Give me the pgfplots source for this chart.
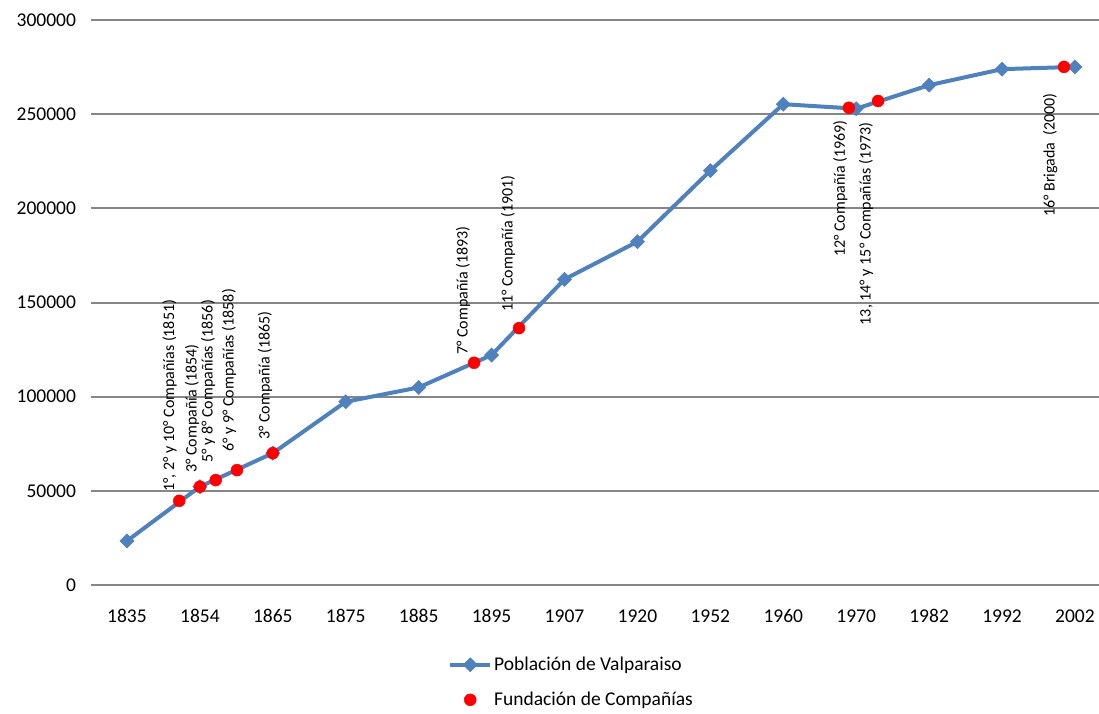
\documentclass[border=0pt]{standalone}
\usepackage{pgfplots}
\pgfplotsset{compat=1.18}
\usepackage{fontspec}
\setmainfont{Carlito}
\definecolor{serieblue}{HTML}{4F81BD}
\definecolor{gridgray}{HTML}{868686}
\begin{document}
\begin{tikzpicture}[x=1pt,y=1pt]
\path[use as bounding box] (0,0) rectangle (1099,713);
\begin{axis}[
  at={(90.5pt,128pt)}, anchor=south west,
  scale only axis, width=1008.5pt, height=565pt,
  xmin=-0.5, xmax=13.33, ymin=0, ymax=300000,
  clip=false,
  axis line style={draw=none},
  ymajorgrids, grid style={gridgray, line width=2pt},
  major tick length=0pt,
  ytick={0,50000,100000,150000,200000,250000,300000},
  scaled y ticks=false,
  xtick={0,1,2,3,4,5,6,7,8,9,10,11,12,13},
  xticklabels={1835,1854,1865,1875,1885,1895,1907,1920,1952,1960,1970,1982,1992,2002},
  /pgf/number format/assume math mode=true,
  yticklabel={\pgfmathprintnumber[fixed,1000 sep={}]{\tick}},
  yticklabel style={font=\fontsize{19.5}{19.5}\selectfont, xshift=-11pt},
  xticklabel style={font=\fontsize{19.5}{19.5}\selectfont, yshift=-21pt},
  legend style={at={(0.3545,-0.124)}, anchor=north west, draw=none, fill=none,
    font=\fontsize{19.5}{19.5}\selectfont, row sep=16pt, inner sep=0pt},
  legend cell align=left,
  legend image code/.code={\draw[mark repeat=2,mark phase=2,#1] plot coordinates {(0pt,0pt) (20pt,0pt) (40pt,0pt)};},
]
\addplot[color=serieblue, line width=4pt, mark=square*, mark size=5pt,
  mark options={rotate=45, fill=serieblue, draw=serieblue, line width=0.5pt}]
  coordinates {
  (0,23400) (1,52200) (2,70000) (3,97300) (4,104900) (5,122100) (6,162300)
  (7,182300) (8,220000) (9,255300) (10,252900) (11,265400) (12,273900) (13,275100)
  };
\addlegendentry{Población de Valparaiso}
\addplot[only marks, mark=*, mark size=6pt, color=red, mark options={fill=red, draw=red}]
  coordinates {
  (0.717,44700) (1.0,52200) (1.217,55700) (1.509,61000) (2.0,70000)
  (4.76,118000) (5.377,136400) (9.90,253400) (10.30,257000) (12.85,275100)
  };
\addlegendentry{Fundación de Compañías}
\begin{scope}[every node/.style={font=\fontsize{16}{16}\selectfont, rotate=90, inner sep=0pt}]
\node[anchor=west] at (axis cs:0.583,49363) {1°, 2° y 10° Compañías (1851)};
\node[anchor=west] at (axis cs:0.892,59448) {3° Compañía (1854)};
\node[anchor=west] at (axis cs:1.111,64756) {5° y 8° Compañías (1856)};
\node[anchor=west] at (axis cs:1.399,70594) {6° y 9° Compañías (1858)};
\node[anchor=west] at (axis cs:1.893,76964) {3° Compañía (1865)};
\node[anchor=west] at (axis cs:4.609,122081) {7° Compañía (1893)};
\node[anchor=west] at (axis cs:5.226,144904) {11° Compañía (1901)};
\node[anchor=east] at (axis cs:9.781,246815) {12° Compañía (1969)};
\node[anchor=east] at (axis cs:10.137,245754) {13, 14° y 15° Compañías (1973)};
\node[anchor=east] at (axis cs:12.661,261146) {16° Brigada~~(2000)};
\end{scope}
\end{axis}
\end{tikzpicture}
\end{document}
